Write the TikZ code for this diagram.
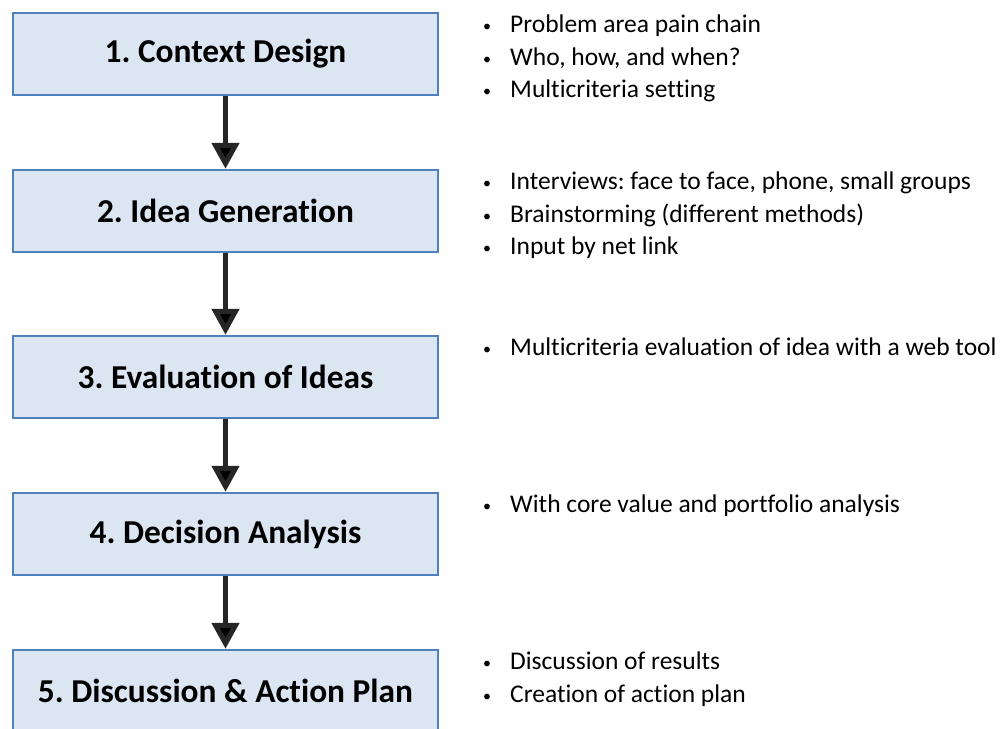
\documentclass[tikz,border=0pt]{standalone}
\usepackage{fontspec}
\setmainfont{Carlito}[Ligatures=NoCommon]
\usepackage{tikz}
\usetikzlibrary{arrows.meta}
\usetikzlibrary{positioning}
\frenchspacing

\definecolor{boxfill}{HTML}{DCE6F2}
\definecolor{boxline}{HTML}{4F81BD}
\definecolor{arrowgray}{HTML}{262626}

\newcommand{\bitem}[1]{\makebox[27pt][l]{\fontsize{16}{16}\selectfont\raisebox{1pt}{\textbullet}}#1}

\begin{document}
\begin{tikzpicture}[x=1pt,y=1pt,node distance=157pt,
                    step box/.style={rectangle,draw=boxline,fill=boxfill,line width=2.5pt,
                      minimum width=425pt,minimum height=82pt,inner sep=0pt,
                      font=\fontsize{33.4}{38}\selectfont\bfseries},
                    notes/.style={anchor=north west,align=left,inner sep=0pt,
                      font=\fontsize{25.5}{32.5}\selectfont},
                    flow/.style={draw=arrowgray,line width=5pt,
                      -{Triangle[length=26pt,width=27pt]}}]

      \useasboundingbox (0,0) rectangle (1006,-728);

      \node[step box] (1) at (225.5,-54) {1. Context Design};
      \node[step box] (2) [below of=1] {2. Idea Generation};
      \node[step box] (3) [below of=2,yshift=-9pt] {3. Evaluation of Ideas};
      \node[step box] (4) [below of=3] {4. Decision Analysis};
      \node[step box] (5) [below of=4] {5. Discussion \& Action Plan};

      % bullet lists beside each step
      \node[notes] (1n) at ([yshift=-3pt]1.north -| 483,0) {\bitem{Problem area pain chain}\\
        \bitem{Who, how, and when?}\\ \bitem{Multicriteria setting}};
      \node[notes] (2n) at ([yshift=-3pt]2.north -| 483,0) {\bitem{Interviews: face to face, phone, small groups}\\
        \bitem{Brainstorming (different methods)}\\ \bitem{Input by net link}};
      \node[notes] (3n) at ([yshift=-3pt]3.north -| 483,0) {\bitem{Multicriteria evaluation of idea with a web tool}};
      \node[notes] (4n) at ([yshift=-3pt]4.north -| 483,0) {\bitem{With core value and portfolio analysis}};
      \node[notes] (5n) at ([yshift=-3pt]5.north -| 483,0) {\bitem{Discussion of results}\\
        \bitem{Creation of action plan}};

      \path[flow]
        (1) edge (2)
        (2) edge (3)
        (3) edge (4)
        (4) edge (5);
    \end{tikzpicture}
\end{document}
